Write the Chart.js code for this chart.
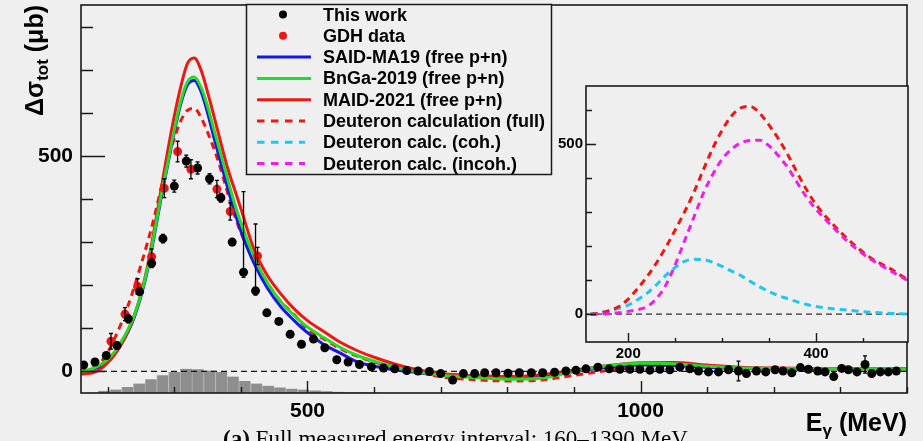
<!DOCTYPE html>
<html>
<head>
<meta charset="utf-8">
<script src="https://cdn.jsdelivr.net/npm/chart.js@4.4.1/dist/chart.umd.min.js"></script>
<style>
  html, body { margin: 0; padding: 0; background: #efefef; overflow: hidden; }
  #wrap { position: relative; width: 923px; height: 441px; }
  #main { position: absolute; left: 0; top: 0; }
  #inset { position: absolute; left: 540px; top: 80px; }
</style>
</head>
<body>
<div id="wrap">
  <canvas id="main" width="923" height="441"></canvas>
  <canvas id="inset" width="383" height="290"></canvas>
</div>
<script>
// ------------------------------------------------------------
// data (E in MeV, cross section in microbarn)
// ------------------------------------------------------------
var xMin = 160, xMax = 1400, yMin = -50, yMax = 850;
var insetXMin = 155, insetXMax = 498, insetYMin = -82, insetYMax = 670;

var xLabelTicks = [500, 1000];
var xMinorTicks = [200, 300, 400, 600, 700, 800, 900, 1100, 1200, 1300, 1400];
var yLabelTicks = [0, 500];
var yMinorTicks = [100, 200, 300, 400, 600, 700, 800];
var insetXLabelTicks = [200, 400];
var insetXMinorTicks = [250, 300, 350, 450];
var insetYLabelTicks = [0, 500];
var insetYMinorTicks = [100, 200, 300, 400, 600];

// this work
var workE = [164,181,198,214,231,248,266,283,300,318,335,353,370,387,404,422,439,457,474,491,
  509,526,544,561,578,596,614,631,649,666,683,700,718,734,751,766,783,801,818,836,
  853,871,888,903,918,936,953,969,984,999,1014,1029,1044,1059,1074,1087,1102,1117,1132,1147,
  1159,1174,1188,1202,1214,1227,1240,1252,1266,1277,1290,1302,1312,1325,1337,1347,1360,1372,1384];
var workV = [15,22,37,60,122,185,251,308,430,488,472,447,403,300,230,187,136,116,86,63,
  75,55,27,22,16,11,8,6,2,1,0,-5,-20,-5,-5,-3,-3,-4,-3,-3,
  -3,-2,1,3,6,10,6,5,5,5,3,5,4,10,6,1,-1,-1,4,1,
  -5,1,-1,4,1,-3,9,5,1,-1,-12,7,4,-1,16,-5,-1,-1,1];
var workErrUp = [4,4,6,8,9,8,10,10,14,14,14,12,10,8,187,155,5,5,5,4,
  4,4,4,4,4,4,4,4,4,4,4,4,4,4,4,4,4,4,4,4,
  4,4,4,4,4,4,4,4,4,4,4,4,4,4,4,4,4,4,4,23,
  4,4,4,4,4,4,4,4,4,4,4,4,4,4,20,4,4,4,4];
var workErrDown = [4,4,6,8,9,8,10,10,14,14,14,12,10,8,12,10,5,5,5,4,
  4,4,4,4,4,4,4,4,4,4,4,4,4,4,4,4,4,4,4,4,
  4,4,4,4,4,4,4,4,4,4,4,4,4,4,4,4,4,4,4,23,
  4,4,4,4,4,4,4,4,4,4,4,4,4,4,20,4,4,4,4];

// GDH data
var gdhE = [205,226,245,266,285,305,325,364,384,425];
var gdhV = [70,133,197,266,425,510,469,423,371,268];
var gdhErr = [18,15,18,18,22,24,22,20,20,20];

// model curves
var modelE = [160,170,180,190,200,210,220,230,240,250,260,270,280,290,300,310,320,330,340,350,
  360,370,380,390,400,420,440,460,480,500,525,550,575,600,650,700,750,800,850,900,
  950,1000,1050,1100,1150,1200,1250,1300,1350,1400];
var saidMA19 = [0,2,6,13,24,40,62,90,126,174,236,315,400,478,555,622,665,675,650,600,
  540,483,427,373,326,250,193,150,118,90,62,42,22,12,0,-7,-10,-12,-10,0,
  10,15,14,10,7,6,6,6,6,6];
var bnga2019 = [0,3,8,16,28,45,68,96,130,178,240,320,405,482,560,628,672,683,660,615,
  558,503,447,392,345,265,205,162,130,103,78,55,37,24,3,-9,-14,-18,-16,0,
  13,19,18,12,8,7,6,6,6,6];
var maid2021 = [-6,-5,-2,6,20,38,62,92,130,180,245,330,420,510,592,662,715,727,700,648,
  590,530,472,425,378,282,222,180,145,118,92,67,48,33,9,-5,-10,-12,-8,3,
  13,20,21,15,10,8,7,6,6,6];
var deutFull = [0,3,10,22,44,75,110,150,196,247,300,358,424,487,540,582,606,610,590,555,
  515,468,415,365,322,258,205,162,132,98,75,52,35,22,4,-12,-19,-22,-20,-9,
  2,11,14,11,8,7,6,6,6,6];

// deuteron parts (inset only)
var deutE = [160,170,180,190,200,210,220,230,240,250,260,270,280,290,300,310,320,330,340,350,
  360,370,380,390,400,420,440,460,480,500];
var deutCoh = [0,4,10,17,26,42,61,86,114,137,155,161,160,152,140,126,113,96,80,66,
  54,45,36,28,22,15,10,5,2,0];
var deutIncoh = [-1,0,2,4,8,13,22,45,85,145,215,285,355,410,455,484,503,510,511,494,
  465,430,386,343,308,250,198,158,126,95];

// grey histogram at the bottom
var histE = [177.0,194.6,212.2,229.8,247.4,265.0,282.6,300.2,317.8,335.4,353.0,370.6,388.2,405.8,
  423.4,441.0,458.6,476.2,493.8,511.4,529.0,546.6,564.2,581.8,599.4,617.0,634.6,652.2];
var histTop = [-49,-45,-42,-36,-28,-18,-9,-1,6,5,2,-1,-12,-22,
  -28,-33,-37,-40,-42,-44,-46,-47,-48,-48.5,-49,-49.3,-49.6,-49.8];

// ------------------------------------------------------------
// styles
// ------------------------------------------------------------
var FONT = "'Liberation Sans', Arial, Helvetica, sans-serif";
var SERIF = "'Liberation Serif', 'DejaVu Serif', serif";
var BG = '#efefef';
var INK = '#1a1a1a';
var seriesStyle = {
  'This work': { kind: 'dot', color: '#000000' },
  'GDH data': { kind: 'dot', color: '#f41414' },
  'SAID-MA19 (free p+n)': { kind: 'line', color: '#1616e8' },
  'BnGa-2019 (free p+n)': { kind: 'line', color: '#22dd22' },
  'MAID-2021 (free p+n)': { kind: 'line', color: '#f01616' },
  'Deuteron calculation (full)': { kind: 'dash', color: '#f01616' },
  'Deuteron calc. (coh.)': { kind: 'dash', color: '#22c6ec' },
  'Deuteron calc. (incoh.)': { kind: 'dash', color: '#ee1eee' }
};
var legendOrder = ['This work', 'GDH data', 'SAID-MA19 (free p+n)', 'BnGa-2019 (free p+n)',
  'MAID-2021 (free p+n)', 'Deuteron calculation (full)', 'Deuteron calc. (coh.)', 'Deuteron calc. (incoh.)'];
var DASH = [7, 5];

Chart.defaults.font.family = FONT;

function xy(xs, ys) {
  return xs.map(function (x, i) { return { x: x, y: ys[i] }; });
}

function curve(label, xs, ys, order) {
  var st = seriesStyle[label];
  return {
    label: label, data: xy(xs, ys), order: order,
    borderColor: st.color, borderWidth: 3, borderDash: st.kind === 'dash' ? DASH : [],
    pointRadius: 0, fill: false, cubicInterpolationMode: 'monotone'
  };
}

function points(label, xs, ys, up, down, order) {
  var st = seriesStyle[label];
  return {
    label: label, data: xy(xs, ys), order: order, showLine: false,
    pointRadius: 4.5, pointBackgroundColor: st.color, pointBorderWidth: 0,
    borderColor: st.color, errUp: up, errDown: down
  };
}

// fixed axis sizes so the plot frame lands where it is in the figure
function fixX(h) {
  return function (s) { s.height = h; s.paddingLeft = 0; s.paddingRight = 0; };
}
function fixY(w) {
  return function (s) { s.width = w; s.paddingTop = 0; s.paddingBottom = 0; };
}
function onlyTicks(list) {
  return function (s) { s.ticks = list.map(function (v) { return { value: v }; }); };
}
function plainLabel(v) { return String(v); }

// ============================================================
// frame, ticks drawn inside the axes (ROOT look)
// ============================================================
var framePlugin = {
  id: 'frame',
  beforeDraw: function (chart, args, o) {
    var a = chart.chartArea, ctx = chart.ctx;
    if (o.fill) {
      ctx.save();
      ctx.fillStyle = BG;
      ctx.fillRect(a.left, a.top, a.right - a.left, a.bottom - a.top);
      ctx.restore();
    }
  },
  afterDraw: function (chart, args, o) {
    var a = chart.chartArea, ctx = chart.ctx, xs = chart.scales.x, ys = chart.scales.y;
    ctx.save();
    ctx.strokeStyle = INK;
    ctx.lineWidth = 1.4;
    ctx.beginPath();
    function xt(list, len) {
      list.forEach(function (v) {
        var p = Math.round(xs.getPixelForValue(v)) + 0.5;
        ctx.moveTo(p, a.bottom); ctx.lineTo(p, a.bottom - len);
      });
    }
    function yt(list, len) {
      list.forEach(function (v) {
        var p = Math.round(ys.getPixelForValue(v)) + 0.5;
        ctx.moveTo(a.left, p); ctx.lineTo(a.left + len, p);
      });
    }
    xt(o.xMajor, o.xMajorLen); xt(o.xMinor, o.xMinorLen);
    yt(o.yMajor, o.yMajorLen); yt(o.yMinor, o.yMinorLen);
    ctx.stroke();
    ctx.lineWidth = 1.6;
    ctx.strokeRect(a.left, a.top, a.right - a.left, a.bottom - a.top);
    ctx.restore();
  }
};

// ============================================================
// vertical error bars from errUp / errDown of the datasets
// ============================================================
var errorBarPlugin = {
  id: 'errbars',
  afterDatasetsDraw: function (chart) {
    var ctx = chart.ctx, xs = chart.scales.x, ys = chart.scales.y, a = chart.chartArea;
    ctx.save();
    ctx.beginPath();
    ctx.rect(a.left, a.top, a.right - a.left, a.bottom - a.top);
    ctx.clip();
    ctx.strokeStyle = '#000';
    ctx.lineWidth = 1.3;
    chart.data.datasets.forEach(function (ds) {
      if (!ds.errUp) return;
      ctx.beginPath();
      ds.data.forEach(function (p, i) {
        var px = xs.getPixelForValue(p.x);
        var y1 = ys.getPixelForValue(p.y + ds.errUp[i]);
        var y2 = ys.getPixelForValue(p.y - ds.errDown[i]);
        ctx.moveTo(px, y1); ctx.lineTo(px, y2);
        ctx.moveTo(px - 2, y1); ctx.lineTo(px + 2, y1);
        ctx.moveTo(px - 2, y2); ctx.lineTo(px + 2, y2);
      });
      ctx.stroke();
    });
    ctx.restore();
  }
};

// ============================================================
// legend box in the upper middle
// ============================================================
var legendPlugin = {
  id: 'boxlegend',
  afterDraw: function (chart) {
    var ctx = chart.ctx;
    var bx = 246, by = 4, bw = 305, bh = 170;
    ctx.save();
    ctx.fillStyle = BG;
    ctx.fillRect(bx, by, bw, bh);
    ctx.strokeStyle = INK;
    ctx.lineWidth = 1.5;
    ctx.strokeRect(bx + 0.5, by + 0.5, bw, bh);
    ctx.font = 'bold 18px ' + FONT;
    ctx.textBaseline = 'alphabetic';
    ctx.textAlign = 'left';
    legendOrder.forEach(function (label, i) {
      var st = seriesStyle[label];
      var base = 20.5 + i * 21.3;
      var my = base - 6;
      if (st.kind === 'dot') {
        ctx.fillStyle = st.color;
        ctx.beginPath();
        ctx.arc(283, my, 4, 0, Math.PI * 2);
        ctx.fill();
      } else {
        ctx.strokeStyle = st.color;
        ctx.lineWidth = 3;
        ctx.setLineDash(st.kind === 'dash' ? [7.5, 6.5] : []);
        ctx.beginPath();
        ctx.moveTo(257, my);
        ctx.lineTo(st.kind === 'dash' ? 305 : 311, my);
        ctx.stroke();
        ctx.setLineDash([]);
      }
      ctx.fillStyle = '#000';
      ctx.fillText(label, 323, base);
    });
    ctx.restore();
  }
};

// ============================================================
// axis titles and caption
// ============================================================
var titlePlugin = {
  id: 'titles',
  afterDraw: function (chart) {
    var ctx = chart.ctx;
    ctx.save();
    ctx.fillStyle = '#000';
    ctx.textBaseline = 'alphabetic';
    ctx.textAlign = 'left';
    // y title, rotated
    var big = 'bold 25px ' + FONT, small = 'bold 17px ' + FONT;
    ctx.font = big; var w1 = ctx.measureText('\u0394\u03c3').width;
    ctx.font = small; var w2 = ctx.measureText('tot').width;
    ctx.font = big; var w3 = ctx.measureText(' (\u03bcb)').width;
    var W = w1 + w2 + w3;
    ctx.save();
    ctx.translate(43, 5);
    ctx.rotate(-Math.PI / 2);
    var x = -W;
    ctx.font = big; ctx.fillText('\u0394\u03c3', x, 0); x += w1;
    ctx.font = small; ctx.fillText('tot', x, 5); x += w2;
    ctx.font = big; ctx.fillText(' (\u03bcb)', x, 0);
    ctx.restore();

    // x title, right aligned to the frame
    var xb = 'bold 25px ' + FONT, xs = 'bold 17px ' + FONT;
    ctx.font = xb; var e1 = ctx.measureText('E').width;
    ctx.font = xs; var e2 = ctx.measureText('\u03b3').width;
    ctx.font = xb; var e3 = ctx.measureText(' (MeV)').width;
    var sx = 907 - (e1 + e2 + e3);
    ctx.font = xb; ctx.fillText('E', sx, 431); sx += e1;
    ctx.font = xs; ctx.fillText('\u03b3', sx, 436); sx += e2;
    ctx.font = xb; ctx.fillText(' (MeV)', sx, 431);

    // caption under the figure (cut by the page edge)
    var capA = '(a)', capB = ' Full measured energy interval: 160\u20131390 MeV';
    ctx.font = 'bold 20px ' + SERIF; var c1 = ctx.measureText(capA).width;
    ctx.font = '20px ' + SERIF; var c2 = ctx.measureText(capB).width;
    var size = 20 * 465 / (c1 + c2);
    ctx.font = 'bold ' + size + 'px ' + SERIF; c1 = ctx.measureText(capA).width;
    ctx.fillText(capA, 223, 446);
    ctx.font = size + 'px ' + SERIF;
    ctx.fillText(capB, 223 + c1, 446);
    ctx.restore();
  }
};

// ============================================================
// main chart
// ============================================================
var tickFont = { family: FONT, size: 21, weight: 'bold' };

var mainChart = new Chart(document.getElementById('main'), {
  type: 'line',
  data: {
    datasets: [
      points('This work', workE, workV, workErrUp, workErrDown, 0),
      points('GDH data', gdhE, gdhV, gdhErr, gdhErr, 1),
      curve('BnGa-2019 (free p+n)', modelE, bnga2019, 2),
      curve('MAID-2021 (free p+n)', modelE, maid2021, 3),
      curve('SAID-MA19 (free p+n)', modelE, saidMA19, 4),
      curve('Deuteron calculation (full)', modelE, deutFull, 5),
      {
        label: 'zero', data: [{ x: xMin, y: 0 }, { x: xMax, y: 0 }], order: 6,
        borderColor: INK, borderWidth: 1.3, borderDash: [6, 4], pointRadius: 0
      },
      {
        type: 'bar', label: 'hist', order: 7,
        data: histE.map(function (x, i) { return { x: x, y: [yMin, histTop[i]] }; }),
        backgroundColor: '#8e8e8e', borderColor: '#b0b0b0',
        borderWidth: { left: 1, right: 0, top: 0, bottom: 0 }, borderSkipped: false,
        barPercentage: 1, categoryPercentage: 1, grouped: false
      }
    ]
  },
  options: {
    responsive: false, animation: false, devicePixelRatio: 1,
    layout: { padding: { top: 5, right: 16, left: 0, bottom: 0 } },
    plugins: {
      legend: { display: false }, tooltip: { enabled: false },
      frame: {
        fill: false,
        xMajor: xLabelTicks, xMinor: xMinorTicks, xMajorLen: 12, xMinorLen: 6,
        yMajor: yLabelTicks, yMinor: yMinorTicks, yMajorLen: 24, yMinorLen: 12
      }
    },
    scales: {
      x: {
        type: 'linear', min: xMin, max: xMax, offset: false,
        grid: { display: false, drawTicks: false }, border: { display: false },
        afterBuildTicks: onlyTicks(xLabelTicks),
        afterFit: fixX(48),
        ticks: { font: tickFont, color: '#000', padding: 6, maxRotation: 0, autoSkip: false, callback: plainLabel }
      },
      y: {
        type: 'linear', min: yMin, max: yMax,
        grid: { display: false, drawTicks: false }, border: { display: false },
        afterBuildTicks: onlyTicks(yLabelTicks),
        afterFit: fixY(81),
        ticks: { font: tickFont, color: '#000', padding: 8, autoSkip: false, callback: plainLabel }
      }
    }
  },
  plugins: [framePlugin, errorBarPlugin, legendPlugin, titlePlugin]
});

// ============================================================
// inset: deuteron calculation and its parts
// ============================================================
var insetFont = { family: FONT, size: 15, weight: 'bold' };

var insetChart = new Chart(document.getElementById('inset'), {
  type: 'line',
  data: {
    datasets: [
      curve('Deuteron calc. (incoh.)', deutE, deutIncoh, 0),
      curve('Deuteron calculation (full)', modelE, deutFull, 1),
      curve('Deuteron calc. (coh.)', deutE, deutCoh, 2),
      {
        label: 'zero', data: [{ x: insetXMin, y: 0 }, { x: insetXMax, y: 0 }], order: 3,
        borderColor: '#333', borderWidth: 1.3, borderDash: [6, 4], pointRadius: 0
      }
    ]
  },
  options: {
    responsive: false, animation: false, devicePixelRatio: 1,
    layout: { padding: { top: 6, right: 15, left: 0, bottom: 0 } },
    plugins: {
      legend: { display: false }, tooltip: { enabled: false },
      frame: {
        fill: true,
        xMajor: insetXLabelTicks, xMinor: insetXMinorTicks, xMajorLen: 9, xMinorLen: 4,
        yMajor: insetYLabelTicks, yMinor: insetYMinorTicks, yMajorLen: 10, yMinorLen: 6
      }
    },
    scales: {
      x: {
        type: 'linear', min: insetXMin, max: insetXMax, offset: false,
        grid: { display: false, drawTicks: false }, border: { display: false },
        afterBuildTicks: onlyTicks(insetXLabelTicks),
        afterFit: fixX(28),
        ticks: { font: insetFont, color: '#000', padding: 3, maxRotation: 0, autoSkip: false, callback: plainLabel }
      },
      y: {
        type: 'linear', min: insetYMin, max: insetYMax,
        grid: { display: false, drawTicks: false }, border: { display: false },
        afterBuildTicks: onlyTicks(insetYLabelTicks),
        afterFit: fixY(46),
        ticks: { font: insetFont, color: '#000', padding: 3, autoSkip: false, callback: plainLabel }
      }
    }
  },
  plugins: [framePlugin]
});
</script>
</body>
</html>
